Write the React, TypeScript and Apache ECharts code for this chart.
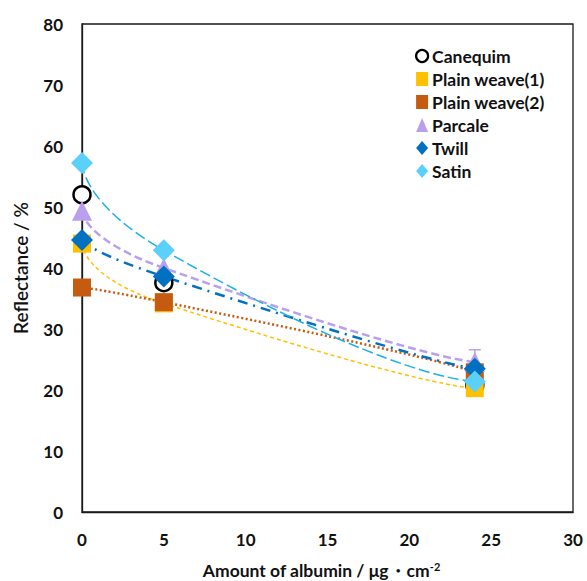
import React, { useEffect, useRef } from "react";
import * as echarts from "echarts";

const xValues = [0, 5, 24];
const canequim = [52.0, 37.6, 20.8];
const plainWeave1 = [44.0, 34.2, 20.3];
const plainWeave2 = [36.8, 34.4, 22.9];
const parcale = [49.4, 40.0, 24.6];
const twill = [44.6, 38.6, 23.5];
const satin = [57.2, 42.9, 21.4];
const parcaleErr = [0, 0, 2.0];
const xTicks = [0, 5, 10, 15, 20, 25, 30];

const FONT = "Lato, 'Open Sans', sans-serif";

const pts = (ys: number[]) => xValues.map((x, i) => [x, ys[i]]);

export default function App() {
  const ref = useRef<HTMLDivElement>(null);
  useEffect(() => {
    if (!ref.current) return;
    const chart = echarts.init(ref.current, undefined, { renderer: "svg" });

    const markers = [
      { name: "Canequim", data: canequim, symbol: "circle", size: 17, color: "#ffffff", border: "#000000", bw: 2.5 },
      { name: "Plain weave(1)", data: plainWeave1, symbol: "rect", size: 18, color: "#FFC000" },
      { name: "Plain weave(2)", data: plainWeave2, symbol: "rect", size: 18, color: "#C55A11" },
      { name: "Parcale", data: parcale, symbol: "triangle", size: 20, color: "#B9A0EE" },
      { name: "Twill", data: twill, symbol: "diamond", size: 22, color: "#0070C0" },
      { name: "Satin", data: satin, symbol: "diamond", size: 22, color: "#5BD0FA" },
    ];

    const trends = [
      { data: plainWeave1, color: "#FFC000", width: 1.5, dash: [4, 3] },
      { data: plainWeave2, color: "#C55A11", width: 2.5, dash: [2, 2.5] },
      { data: parcale, color: "#B9A0EE", width: 2.5, dash: [8, 4] },
      { data: twill, color: "#0070C0", width: 2.5, dash: [10, 6, 2, 6] },
      { data: satin, color: "#1EAEE8", width: 1.5, dash: [11, 4] },
    ];

    const series: any[] = [];
    trends.forEach((t) => {
      series.push({
        type: "line",
        data: pts(t.data),
        smooth: 0.9,
        showSymbol: false,
        symbol: "none",
        silent: true,
        lineStyle: { color: t.color, width: t.width, type: t.dash },
        z: 1,
      });
    });
    series.push({
      type: "custom",
      silent: true,
      z: 2,
      data: xValues.map((x, i) => [x, parcale[i], parcaleErr[i]]).filter((d) => d[2] > 0),
      renderItem: (params: any, api: any) => {
        const x = api.value(0);
        const y = api.value(1);
        const e = api.value(2);
        const top = api.coord([x, y + e]);
        const bot = api.coord([x, y - e]);
        const style = { stroke: "#B9A0EE", lineWidth: 1.5 };
        return {
          type: "group",
          children: [
            { type: "line", shape: { x1: top[0], y1: top[1], x2: bot[0], y2: bot[1] }, style },
            { type: "line", shape: { x1: top[0] - 6, y1: top[1], x2: top[0] + 6, y2: top[1] }, style },
            { type: "line", shape: { x1: bot[0] - 6, y1: bot[1], x2: bot[0] + 6, y2: bot[1] }, style },
          ],
        };
      },
    });
    markers.forEach((m, i) => {
      series.push({
        type: "scatter",
        name: m.name,
        data: pts(m.data),
        symbol: m.symbol,
        symbolSize: m.size,
        itemStyle: {
          color: m.color,
          borderColor: m.border || m.color,
          borderWidth: m.bw || 0,
          opacity: 1,
        },
        z: 3 + i,
      });
    });

    chart.setOption({
      animation: false,
      backgroundColor: "#ffffff",
      textStyle: { fontFamily: FONT },
      grid: {
        left: 82,
        right: 14,
        top: 24,
        bottom: 69,
        containLabel: false,
        outerBoundsMode: "none",
        show: true,
        borderColor: "#1a1a1a",
        borderWidth: 1.3,
        backgroundColor: "transparent",
      },
      legend: {
        orient: "vertical",
        left: 415,
        top: 47,
        padding: 0,
        itemWidth: 12,
        itemHeight: 14,
        itemGap: 5,
        itemStyle: { borderWidth: 0 },
        data: markers.map((m) => ({
          name: m.name,
          icon: m.symbol === "rect" ? "rect" : m.symbol,
          itemStyle:
            m.name === "Canequim"
              ? { color: "#ffffff", borderColor: "#000000", borderWidth: 2.2 }
              : { color: m.color },
        })),
        textStyle: { fontFamily: FONT, fontWeight: "bold", fontSize: 17.5, lineHeight: 16, color: "#111111", padding: [0, 0, 0, -1] },
      },
      xAxis: {
        type: "value",
        min: 0,
        max: 30,
        interval: 5,
        name: "Amount of albumin / μg・cm{sup|-2}",
        nameLocation: "middle",
        nameGap: 49,
        nameTextStyle: {
          fontFamily: FONT,
          fontWeight: "bold",
          fontSize: 17.5,
          color: "#111111",
          padding: [0, 12, 0, 0],
          rich: { sup: { fontSize: 11, fontWeight: "bold", verticalAlign: "top", padding: [0, 0, 8, 0], color: "#111111", fontFamily: FONT } },
        },
        axisLine: { show: true, lineStyle: { color: "#1a1a1a", width: 1.3 } },
        axisTick: { show: false },
        splitLine: { show: false },
        axisLabel: {
          margin: 19,
          fontFamily: FONT,
          fontWeight: "bold",
          fontSize: 17,
          color: "#111111",
          formatter: (v: number) => (xTicks.includes(v) ? String(v) : ""),
        },
      },
      yAxis: {
        type: "value",
        min: 0,
        max: 80,
        interval: 10,
        name: "Reflectance / %",
        nameLocation: "middle",
        nameGap: 52,
        nameTextStyle: { fontFamily: FONT, fontWeight: 600, fontSize: 19, color: "#111111" },
        axisLine: { show: true, lineStyle: { color: "#1a1a1a", width: 1.3 } },
        axisTick: { show: false },
        splitLine: { show: false },
        axisLabel: { margin: 19, fontFamily: FONT, fontWeight: "bold", fontSize: 17, color: "#111111" },
      },
      series,
    });
    return () => chart.dispose();
  }, []);
  return <div ref={ref} style={{ width: 587, height: 581, position: "absolute", left: 0, top: 0 }} />;
}
